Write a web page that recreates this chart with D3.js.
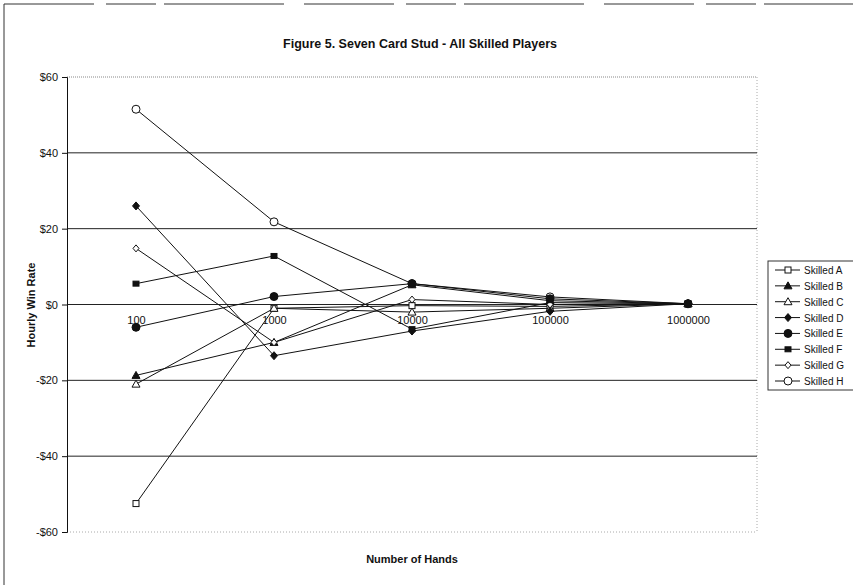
<!DOCTYPE html>
<html><head><meta charset="utf-8">
<script src="https://cdn.jsdelivr.net/npm/d3@7"></script>
<style>body{margin:0;background:#fff;} text{font-family:"Liberation Sans",Arial,sans-serif;fill:#111;}</style>
</head><body>
<svg id="c" width="853" height="585"></svg>
<script>
const categories = ["100","1000","10000","100000","1000000"];
const yTicks = [60,40,20,0,-20,-40,-60];
const seriesNames = ["Skilled A","Skilled B","Skilled C","Skilled D","Skilled E","Skilled F","Skilled G","Skilled H"];
const skilledA = [-52.5, -1.0, -0.3, -0.5, 0.2];
const skilledB = [-18.7, -10.0, 5.2, 1.0, 0.2];
const skilledC = [-21.0, -1.0, -2.0, -1.0, 0.2];
const skilledD = [26.0, -13.5, -7.0, -1.8, 0.2];
const skilledE = [-6.0, 2.1, 5.5, 1.5, 0.2];
const skilledF = [5.5, 12.8, -6.5, 0.5, 0.2];
const skilledG = [14.8, -10.0, 1.3, 0.0, 0.2];
const skilledH = [51.5, 21.8, 5.5, 2.0, 0.2];
const allValues = [skilledA,skilledB,skilledC,skilledD,skilledE,skilledF,skilledG,skilledH];
const markerTypes = ["sqOpen","triFill","triOpen","diaFill","circFill","sqFill","diaOpen","circOpen"];

const svg = d3.select("#c");
const L=67, R=757, T=77, B=532;
const x = d3.scalePoint().domain(categories).range([L,R]).padding(0.5);
const y = d3.scaleLinear().domain([-60,60]).range([B,T]);
const fmt = v => (v<0?"-$":"$")+Math.abs(v);

// outer frame
svg.append("line").attr("x1",4).attr("x2",4).attr("y1",4).attr("y2",585).attr("stroke","#333").attr("stroke-width",1);
svg.append("line").attr("x1",4).attr("x2",853).attr("y1",4).attr("y2",4).attr("stroke","#333").attr("stroke-width",1).attr("stroke-dasharray","90,12,50,8,120,20");

// title
svg.append("text").attr("x",420).attr("y",48).attr("text-anchor","middle").attr("font-size",12.5).attr("font-weight","bold").text("Figure 5. Seven Card Stud - All Skilled Players");

// plot border (dotted)
svg.append("line").attr("x1",L).attr("x2",R).attr("y1",y(60)).attr("y2",y(60)).attr("stroke","#888").attr("stroke-dasharray","1,1");
svg.append("line").attr("x1",L).attr("x2",R).attr("y1",y(-60)).attr("y2",y(-60)).attr("stroke","#aaa").attr("stroke-dasharray","1,2");
svg.append("line").attr("x1",R).attr("x2",R).attr("y1",T).attr("y2",B).attr("stroke","#aaa").attr("stroke-dasharray","1,2");

// gridlines
svg.append("g").selectAll("line").data(yTicks.filter(v=>Math.abs(v)<60)).join("line")
  .attr("x1",L).attr("x2",R).attr("y1",d=>y(d)).attr("y2",d=>y(d)).attr("stroke","#222").attr("stroke-width",1);

// y axis
const ya = svg.append("g").attr("transform",`translate(${L},0)`).attr("color","#111")
  .call(d3.axisLeft(y).tickValues(yTicks).tickFormat(fmt).tickSize(5).tickPadding(4));
ya.selectAll("text").attr("font-size",11).attr("font-family","Liberation Sans, Arial, sans-serif").attr("fill","#111");

svg.append("text").attr("transform",`translate(35,305) rotate(-90)`).attr("text-anchor","middle").attr("font-size",11).attr("font-weight","bold").text("Hourly Win Rate");

// x category labels at zero line
const xa = svg.append("g").attr("transform",`translate(0,${y(0)})`).attr("color","#111")
  .call(d3.axisBottom(x).tickSize(0).tickPadding(12));
xa.select(".domain").remove();
xa.selectAll("text").attr("font-size",11).attr("font-family","Liberation Sans, Arial, sans-serif").attr("fill","#111");

svg.append("text").attr("x",412).attr("y",563).attr("text-anchor","middle").attr("font-size",11).attr("font-weight","bold").text("Number of Hands");

// marker drawer
function drawMarker(g, type, cx, cy){
  let sel;
  switch(type){
    case "sqOpen": sel=g.append("rect").attr("x",cx-3).attr("y",cy-3).attr("width",6).attr("height",6).attr("fill","#fff"); break;
    case "sqFill": sel=g.append("rect").attr("x",cx-3).attr("y",cy-2.5).attr("width",6).attr("height",5).attr("fill","#111"); break;
    case "triFill": sel=g.append("path").attr("d",`M${cx},${cy-4}L${cx+4},${cy+3}L${cx-4},${cy+3}Z`).attr("fill","#111"); break;
    case "triOpen": sel=g.append("path").attr("d",`M${cx},${cy-4}L${cx+4},${cy+3}L${cx-4},${cy+3}Z`).attr("fill","#fff"); break;
    case "diaFill": sel=g.append("path").attr("d",`M${cx},${cy-4}L${cx+3.5},${cy}L${cx},${cy+4}L${cx-3.5},${cy}Z`).attr("fill","#111"); break;
    case "diaOpen": sel=g.append("path").attr("d",`M${cx},${cy-3.5}L${cx+3},${cy}L${cx},${cy+3.5}L${cx-3},${cy}Z`).attr("fill","#fff"); break;
    case "circFill": sel=g.append("circle").attr("cx",cx).attr("cy",cy).attr("r",4).attr("fill","#111"); break;
    case "circOpen": sel=g.append("circle").attr("cx",cx).attr("cy",cy).attr("r",4).attr("fill","#fff"); break;
  }
  sel.attr("stroke","#111").attr("stroke-width",1);
}

const line = d3.line().x((d,i)=>x(categories[i])).y(d=>y(d));
const plot = svg.append("g");
allValues.forEach((vals,si)=>{
  plot.append("path").attr("d",line(vals)).attr("fill","none").attr("stroke","#111").attr("stroke-width",1);
});
// draw markers; filled circle series (E) last so it sits on top where points overlap
const drawOrder = [0,1,2,3,5,6,7,4];
drawOrder.forEach(si=>{
  const g = plot.append("g");
  allValues[si].forEach((v,i)=>drawMarker(g, markerTypes[si], x(categories[i]), y(v)));
});

// legend
const lg = svg.append("g");
lg.append("rect").attr("x",768).attr("y",261).attr("width",100).attr("height",129).attr("fill","#fff").attr("stroke","#333").attr("stroke-width",1);
const ly = d3.scalePoint().domain(seriesNames).range([270,381]);
seriesNames.forEach((n,i)=>{
  const yy = ly(n);
  lg.append("line").attr("x1",775).attr("x2",800).attr("y1",yy).attr("y2",yy).attr("stroke","#111");
  drawMarker(lg, markerTypes[i], 788, yy);
  lg.append("text").attr("x",804).attr("y",yy+4).attr("font-size",10).text(n);
});
</script>
</body></html>
